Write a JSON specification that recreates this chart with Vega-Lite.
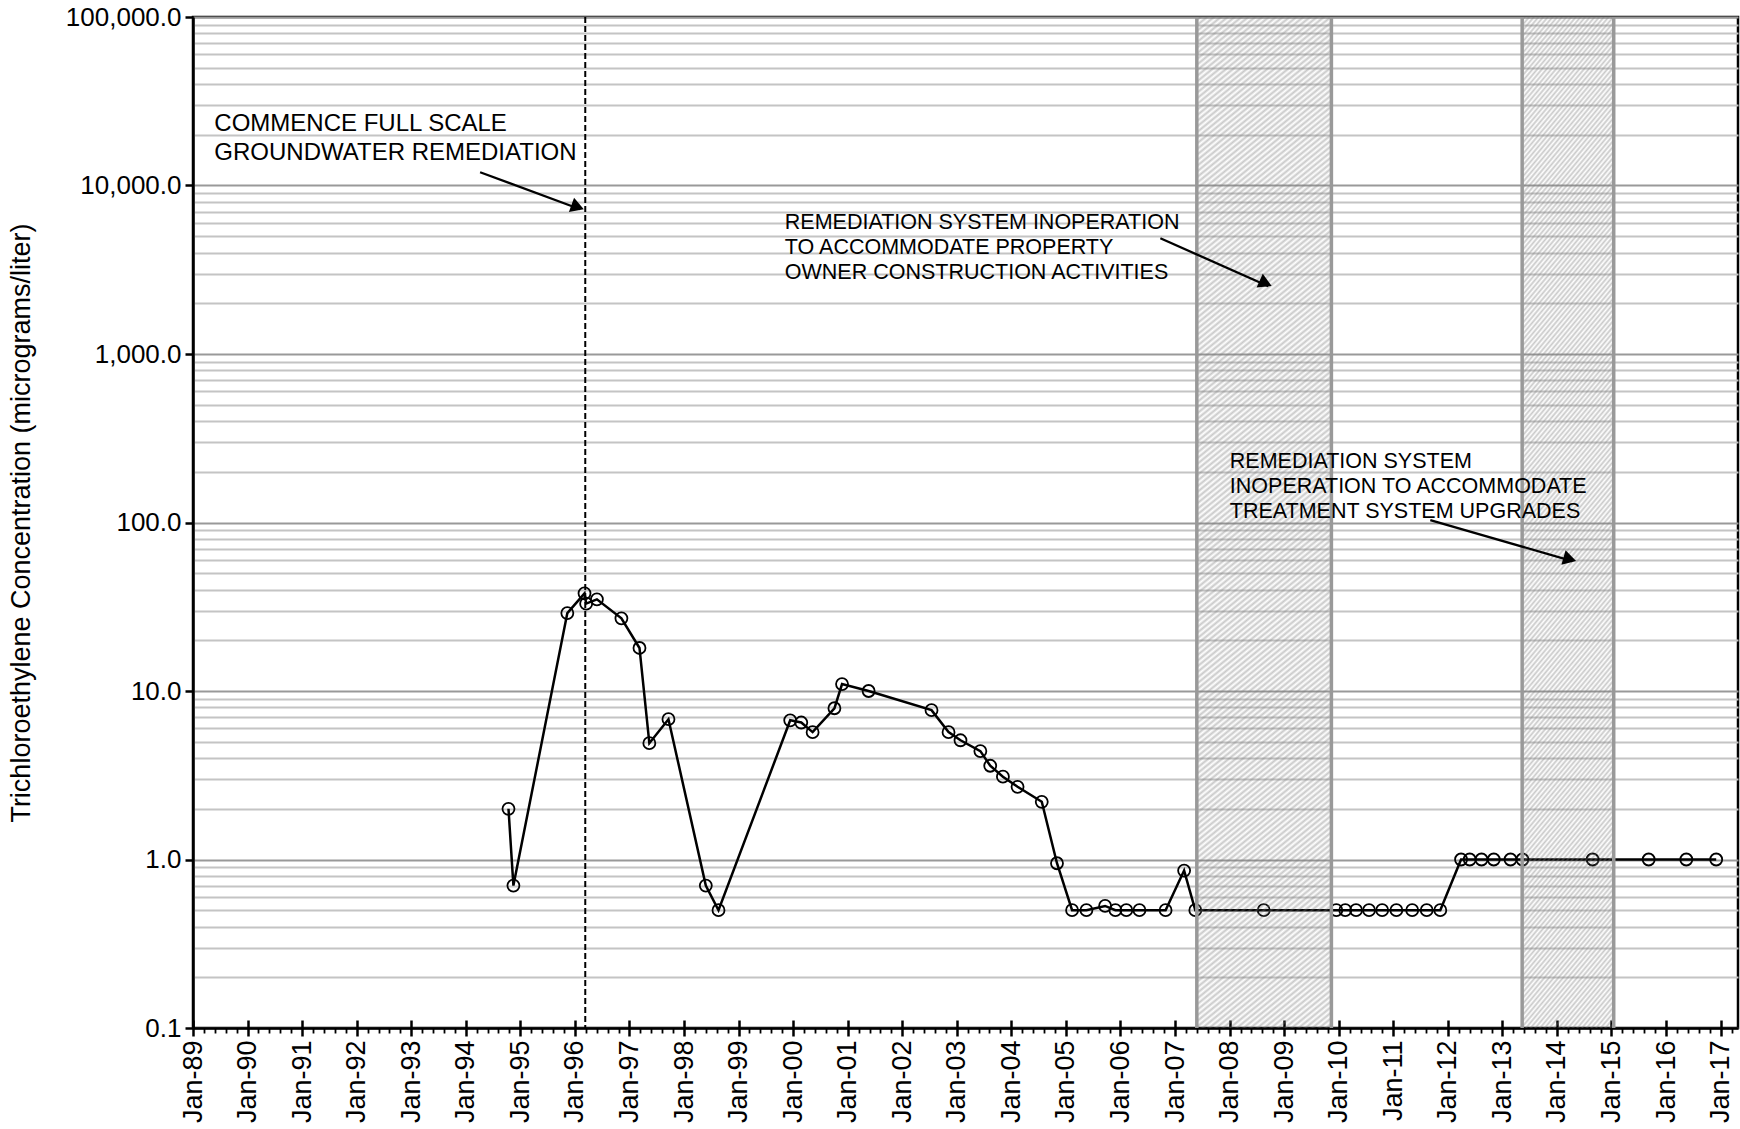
{
  "$schema": "https://vega.github.io/schema/vega-lite/v6.json",
  "width": 1545,
  "height": 1011,
  "autosize": {"type": "none"},
  "padding": {"left": 193, "top": 17, "right": 2, "bottom": 101},
  "config": {
    "font": "Liberation Sans",
    "view": {"stroke": "#000000", "strokeWidth": 2.5}
  },
  "datasets": {
    "tce": [
      {"date": "1994-10-14", "value": 2.0},
      {"date": "1994-11-16", "value": 0.7},
      {"date": "1995-11-12", "value": 29},
      {"date": "1996-03-06", "value": 38},
      {"date": "1996-03-17", "value": 33},
      {"date": "1996-05-28", "value": 35},
      {"date": "1996-11-08", "value": 27},
      {"date": "1997-03-09", "value": 18},
      {"date": "1997-05-14", "value": 4.9},
      {"date": "1997-09-19", "value": 6.8},
      {"date": "1998-05-27", "value": 0.7},
      {"date": "1998-08-20", "value": 0.5},
      {"date": "1999-12-13", "value": 6.7},
      {"date": "2000-02-25", "value": 6.5},
      {"date": "2000-05-11", "value": 5.7},
      {"date": "2000-10-04", "value": 7.9},
      {"date": "2000-11-24", "value": 11},
      {"date": "2001-05-21", "value": 10},
      {"date": "2002-07-16", "value": 7.7},
      {"date": "2002-11-07", "value": 5.7},
      {"date": "2003-01-26", "value": 5.1},
      {"date": "2003-06-08", "value": 4.4},
      {"date": "2003-08-13", "value": 3.6},
      {"date": "2003-11-06", "value": 3.1},
      {"date": "2004-02-12", "value": 2.7},
      {"date": "2004-07-23", "value": 2.2},
      {"date": "2004-11-02", "value": 0.95},
      {"date": "2005-02-11", "value": 0.5},
      {"date": "2005-05-18", "value": 0.5},
      {"date": "2005-09-20", "value": 0.53},
      {"date": "2005-11-28", "value": 0.5},
      {"date": "2006-02-09", "value": 0.5},
      {"date": "2006-05-08", "value": 0.5},
      {"date": "2006-10-30", "value": 0.5},
      {"date": "2007-03-03", "value": 0.86},
      {"date": "2007-05-17", "value": 0.5},
      {"date": "2008-08-17", "value": 0.5},
      {"date": "2009-12-16", "value": 0.5},
      {"date": "2010-02-14", "value": 0.5},
      {"date": "2010-04-27", "value": 0.5},
      {"date": "2010-07-23", "value": 0.5},
      {"date": "2010-10-19", "value": 0.5},
      {"date": "2011-01-22", "value": 0.5},
      {"date": "2011-05-08", "value": 0.5},
      {"date": "2011-08-13", "value": 0.5},
      {"date": "2011-11-12", "value": 0.5},
      {"date": "2012-03-30", "value": 1},
      {"date": "2012-05-27", "value": 1},
      {"date": "2012-08-14", "value": 1},
      {"date": "2012-11-04", "value": 1},
      {"date": "2013-02-24", "value": 1},
      {"date": "2013-05-15", "value": 1},
      {"date": "2014-08-28", "value": 1},
      {"date": "2015-09-07", "value": 1},
      {"date": "2016-05-16", "value": 1},
      {"date": "2016-12-02", "value": 1}
    ],
    "bands": [
      {"start": "2007-05-27", "end": "2009-11-13"},
      {"start": "2013-05-13", "end": "2015-01-16"}
    ],
    "arrows": [
      {"from": "1994-04-07", "fromValue": 11984, "to": "1996-02-06", "toValue": 7228},
      {"from": "2006-09-25", "fromValue": 4864, "to": "2008-09-17", "toValue": 2523},
      {"from": "2011-09-06", "fromValue": 103.3, "to": "2014-04-14", "toValue": 59.0}
    ],
    "one": [{}]
  },
  "resolve": {"axis": {"x": "independent"}},
  "layer": [
    {
      "data": {"name": "tce"},
      "mark": {"type": "line", "color": "#000000", "strokeWidth": 2.5},
      "encoding": {
        "x": {
          "field": "date", "type": "temporal",
          "scale": {"domain": [{"year": 1989, "month": 1, "date": 1}, {"year": 2017, "month": 4, "date": 27}]},
          "axis": {
            "orient": "bottom", "title": null,
            "values": [{"year": 1989}, {"year": 1990}, {"year": 1991}, {"year": 1992}, {"year": 1993}, {"year": 1994}, {"year": 1995}, {"year": 1996}, {"year": 1997}, {"year": 1998}, {"year": 1999}, {"year": 2000}, {"year": 2001}, {"year": 2002}, {"year": 2003}, {"year": 2004}, {"year": 2005}, {"year": 2006}, {"year": 2007}, {"year": 2008}, {"year": 2009}, {"year": 2010}, {"year": 2011}, {"year": 2012}, {"year": 2013}, {"year": 2014}, {"year": 2015}, {"year": 2016}, {"year": 2017}],
            "format": "%b-%y", "labelAngle": 270, "labelFontSize": 27, "labelColor": "#000000",
            "labelPadding": 4, "labelOverlap": false, "labelBound": false, "labelFlush": false,
            "grid": false, "tickColor": "#000000", "tickWidth": 2.5, "tickSize": 8,
            "domainColor": "#000000", "domainWidth": 2.5
          }
        },
        "y": {
          "field": "value", "type": "quantitative",
          "scale": {"type": "log", "domain": [0.1, 100000]},
          "axis": {
            "orient": "left",
            "title": "Trichloroethylene Concentration (micrograms/liter)",
            "titleFontSize": 27, "titleFontWeight": "normal", "titleColor": "#000000", "titlePadding": 30,
            "values": [0.1, 0.2, 0.3, 0.4, 0.5, 0.6, 0.7, 0.8, 0.9, 1, 2, 3, 4, 5, 6, 7, 8, 9, 10, 20, 30, 40, 50, 60, 70, 80, 90, 100, 200, 300, 400, 500, 600, 700, 800, 900, 1000, 2000, 3000, 4000, 5000, 6000, 7000, 8000, 9000, 10000, 20000, 30000, 40000, 50000, 60000, 70000, 80000, 90000, 100000],
            "format": ",.1f",
            "labelExpr": "abs(log(datum.value)/LN10 - round(log(datum.value)/LN10)) < 0.000001 ? datum.label : ''",
            "labelFontSize": 26, "labelColor": "#000000", "labelPadding": 4,
            "labelOverlap": false, "labelBound": false, "labelFlush": false,
            "grid": true,
            "gridColor": {"condition": {"test": "abs(log(datum.value)/LN10 - round(log(datum.value)/LN10)) < 0.000001", "value": "#999999"}, "value": "#c4c4c4"},
            "gridWidth": 2, "gridOpacity": 1,
            "tickColor": "#000000", "tickWidth": 2.5, "tickSize": 8,
            "tickOpacity": {"condition": {"test": "abs(log(datum.value)/LN10 - round(log(datum.value)/LN10)) < 0.000001", "value": 1}, "value": 0},
            "domainColor": "#000000", "domainWidth": 2.5
          }
        }
      }
    },
    {
      "data": {"name": "tce"},
      "mark": {"type": "point", "filled": false, "color": "#000000", "size": 144, "strokeWidth": 1.8, "opacity": 1},
      "encoding": {
        "x": {"field": "date", "type": "temporal", "axis": null},
        "y": {"field": "value", "type": "quantitative"}
      }
    },
    {
      "data": {"name": "tce"},
      "mark": {"type": "point", "opacity": 0},
      "encoding": {
        "x": {
          "field": "date", "type": "temporal",
          "axis": {
            "orient": "bottom", "title": null, "labels": false, "domain": false, "grid": false,
            "values": [{"year": 1989}, {"year": 1990}, {"year": 1991}, {"year": 1992}, {"year": 1993}, {"year": 1994}, {"year": 1995}, {"year": 1996}, {"year": 1997}, {"year": 1998}, {"year": 1999}, {"year": 2000}, {"year": 2001}, {"year": 2002}, {"year": 2003}, {"year": 2004}, {"year": 2005}, {"year": 2006}, {"year": 2007}, {"year": 2008}, {"year": 2009}, {"year": 2010}, {"year": 2011}, {"year": 2012}, {"year": 2013}, {"year": 2014}, {"year": 2015}, {"year": 2016}, {"year": 2017}],
            "tickSize": -8, "tickColor": "#000000", "tickWidth": 2.5
          }
        },
        "y": {"field": "value", "type": "quantitative"}
      }
    },
    {
      "data": {"name": "tce"},
      "mark": {"type": "point", "opacity": 0},
      "encoding": {
        "x": {
          "field": "date", "type": "temporal",
          "axis": {
            "orient": "bottom", "title": null, "labels": false, "domain": false, "grid": false,
            "values": [
              {"year": 1989, "month": 3, "date": 15}, {"year": 1989, "month": 5, "date": 27}, {"year": 1989, "month": 8, "date": 8}, {"year": 1989, "month": 10, "date": 20},
              {"year": 1990, "month": 3, "date": 15}, {"year": 1990, "month": 5, "date": 27}, {"year": 1990, "month": 8, "date": 8}, {"year": 1990, "month": 10, "date": 20},
              {"year": 1991, "month": 3, "date": 15}, {"year": 1991, "month": 5, "date": 27}, {"year": 1991, "month": 8, "date": 8}, {"year": 1991, "month": 10, "date": 20},
              {"year": 1992, "month": 3, "date": 15}, {"year": 1992, "month": 5, "date": 27}, {"year": 1992, "month": 8, "date": 8}, {"year": 1992, "month": 10, "date": 20},
              {"year": 1993, "month": 3, "date": 15}, {"year": 1993, "month": 5, "date": 27}, {"year": 1993, "month": 8, "date": 8}, {"year": 1993, "month": 10, "date": 20},
              {"year": 1994, "month": 3, "date": 15}, {"year": 1994, "month": 5, "date": 27}, {"year": 1994, "month": 8, "date": 8}, {"year": 1994, "month": 10, "date": 20},
              {"year": 1995, "month": 3, "date": 15}, {"year": 1995, "month": 5, "date": 27}, {"year": 1995, "month": 8, "date": 8}, {"year": 1995, "month": 10, "date": 20},
              {"year": 1996, "month": 3, "date": 15}, {"year": 1996, "month": 5, "date": 27}, {"year": 1996, "month": 8, "date": 8}, {"year": 1996, "month": 10, "date": 20},
              {"year": 1997, "month": 3, "date": 15}, {"year": 1997, "month": 5, "date": 27}, {"year": 1997, "month": 8, "date": 8}, {"year": 1997, "month": 10, "date": 20},
              {"year": 1998, "month": 3, "date": 15}, {"year": 1998, "month": 5, "date": 27}, {"year": 1998, "month": 8, "date": 8}, {"year": 1998, "month": 10, "date": 20},
              {"year": 1999, "month": 3, "date": 15}, {"year": 1999, "month": 5, "date": 27}, {"year": 1999, "month": 8, "date": 8}, {"year": 1999, "month": 10, "date": 20},
              {"year": 2000, "month": 3, "date": 15}, {"year": 2000, "month": 5, "date": 27}, {"year": 2000, "month": 8, "date": 8}, {"year": 2000, "month": 10, "date": 20},
              {"year": 2001, "month": 3, "date": 15}, {"year": 2001, "month": 5, "date": 27}, {"year": 2001, "month": 8, "date": 8}, {"year": 2001, "month": 10, "date": 20},
              {"year": 2002, "month": 3, "date": 15}, {"year": 2002, "month": 5, "date": 27}, {"year": 2002, "month": 8, "date": 8}, {"year": 2002, "month": 10, "date": 20},
              {"year": 2003, "month": 3, "date": 15}, {"year": 2003, "month": 5, "date": 27}, {"year": 2003, "month": 8, "date": 8}, {"year": 2003, "month": 10, "date": 20},
              {"year": 2004, "month": 3, "date": 15}, {"year": 2004, "month": 5, "date": 27}, {"year": 2004, "month": 8, "date": 8}, {"year": 2004, "month": 10, "date": 20},
              {"year": 2005, "month": 3, "date": 15}, {"year": 2005, "month": 5, "date": 27}, {"year": 2005, "month": 8, "date": 8}, {"year": 2005, "month": 10, "date": 20},
              {"year": 2006, "month": 3, "date": 15}, {"year": 2006, "month": 5, "date": 27}, {"year": 2006, "month": 8, "date": 8}, {"year": 2006, "month": 10, "date": 20},
              {"year": 2007, "month": 3, "date": 15}, {"year": 2007, "month": 5, "date": 27}, {"year": 2007, "month": 8, "date": 8}, {"year": 2007, "month": 10, "date": 20},
              {"year": 2008, "month": 3, "date": 15}, {"year": 2008, "month": 5, "date": 27}, {"year": 2008, "month": 8, "date": 8}, {"year": 2008, "month": 10, "date": 20},
              {"year": 2009, "month": 3, "date": 15}, {"year": 2009, "month": 5, "date": 27}, {"year": 2009, "month": 8, "date": 8}, {"year": 2009, "month": 10, "date": 20},
              {"year": 2010, "month": 3, "date": 15}, {"year": 2010, "month": 5, "date": 27}, {"year": 2010, "month": 8, "date": 8}, {"year": 2010, "month": 10, "date": 20},
              {"year": 2011, "month": 3, "date": 15}, {"year": 2011, "month": 5, "date": 27}, {"year": 2011, "month": 8, "date": 8}, {"year": 2011, "month": 10, "date": 20},
              {"year": 2012, "month": 3, "date": 15}, {"year": 2012, "month": 5, "date": 27}, {"year": 2012, "month": 8, "date": 8}, {"year": 2012, "month": 10, "date": 20},
              {"year": 2013, "month": 3, "date": 15}, {"year": 2013, "month": 5, "date": 27}, {"year": 2013, "month": 8, "date": 8}, {"year": 2013, "month": 10, "date": 20},
              {"year": 2014, "month": 3, "date": 15}, {"year": 2014, "month": 5, "date": 27}, {"year": 2014, "month": 8, "date": 8}, {"year": 2014, "month": 10, "date": 20},
              {"year": 2015, "month": 3, "date": 15}, {"year": 2015, "month": 5, "date": 27}, {"year": 2015, "month": 8, "date": 8}, {"year": 2015, "month": 10, "date": 20},
              {"year": 2016, "month": 3, "date": 15}, {"year": 2016, "month": 5, "date": 27}, {"year": 2016, "month": 8, "date": 8}, {"year": 2016, "month": 10, "date": 20},
              {"year": 2017, "month": 3, "date": 15}
            ],
            "tickSize": 5, "tickColor": "#000000", "tickWidth": 1.8
          }
        },
        "y": {"field": "value", "type": "quantitative"}
      }
    },
    {
      "data": {"name": "one"},
      "mark": {"type": "rule", "color": "#000000", "strokeWidth": 2, "strokeDash": [6, 3]},
      "encoding": {
        "x": {"datum": {"year": 1996, "month": 3, "date": 11}, "type": "temporal", "axis": null}
      }
    },
    {
      "data": {"name": "bands"},
      "mark": {
        "type": "rect",
        "fill": {
          "gradient": "linear", "x1": 0, "y1": 0, "x2": 0.12, "y2": 1.1,
          "stops": [
            {"offset":0,"color":"rgba(120,120,120,0)"},{"offset":0.0025,"color":"rgba(120,120,120,0.4)"},{"offset":0.005,"color":"rgba(120,120,120,0)"},{"offset":0.0075,"color":"rgba(120,120,120,0.4)"},{"offset":0.01,"color":"rgba(120,120,120,0)"},{"offset":0.0125,"color":"rgba(120,120,120,0.4)"},{"offset":0.015,"color":"rgba(120,120,120,0)"},{"offset":0.0175,"color":"rgba(120,120,120,0.4)"},
            {"offset":0.02,"color":"rgba(120,120,120,0)"},{"offset":0.0225,"color":"rgba(120,120,120,0.4)"},{"offset":0.025,"color":"rgba(120,120,120,0)"},{"offset":0.0275,"color":"rgba(120,120,120,0.4)"},{"offset":0.03,"color":"rgba(120,120,120,0)"},{"offset":0.0325,"color":"rgba(120,120,120,0.4)"},{"offset":0.035,"color":"rgba(120,120,120,0)"},{"offset":0.0375,"color":"rgba(120,120,120,0.4)"},
            {"offset":0.04,"color":"rgba(120,120,120,0)"},{"offset":0.0425,"color":"rgba(120,120,120,0.4)"},{"offset":0.045,"color":"rgba(120,120,120,0)"},{"offset":0.0475,"color":"rgba(120,120,120,0.4)"},{"offset":0.05,"color":"rgba(120,120,120,0)"},{"offset":0.0525,"color":"rgba(120,120,120,0.4)"},{"offset":0.055,"color":"rgba(120,120,120,0)"},{"offset":0.0575,"color":"rgba(120,120,120,0.4)"},
            {"offset":0.06,"color":"rgba(120,120,120,0)"},{"offset":0.0625,"color":"rgba(120,120,120,0.4)"},{"offset":0.065,"color":"rgba(120,120,120,0)"},{"offset":0.0675,"color":"rgba(120,120,120,0.4)"},{"offset":0.07,"color":"rgba(120,120,120,0)"},{"offset":0.0725,"color":"rgba(120,120,120,0.4)"},{"offset":0.075,"color":"rgba(120,120,120,0)"},{"offset":0.0775,"color":"rgba(120,120,120,0.4)"},
            {"offset":0.08,"color":"rgba(120,120,120,0)"},{"offset":0.0825,"color":"rgba(120,120,120,0.4)"},{"offset":0.085,"color":"rgba(120,120,120,0)"},{"offset":0.0875,"color":"rgba(120,120,120,0.4)"},{"offset":0.09,"color":"rgba(120,120,120,0)"},{"offset":0.0925,"color":"rgba(120,120,120,0.4)"},{"offset":0.095,"color":"rgba(120,120,120,0)"},{"offset":0.0975,"color":"rgba(120,120,120,0.4)"},
            {"offset":0.1,"color":"rgba(120,120,120,0)"},{"offset":0.1025,"color":"rgba(120,120,120,0.4)"},{"offset":0.105,"color":"rgba(120,120,120,0)"},{"offset":0.1075,"color":"rgba(120,120,120,0.4)"},{"offset":0.11,"color":"rgba(120,120,120,0)"},{"offset":0.1125,"color":"rgba(120,120,120,0.4)"},{"offset":0.115,"color":"rgba(120,120,120,0)"},{"offset":0.1175,"color":"rgba(120,120,120,0.4)"},
            {"offset":0.12,"color":"rgba(120,120,120,0)"},{"offset":0.1225,"color":"rgba(120,120,120,0.4)"},{"offset":0.125,"color":"rgba(120,120,120,0)"},{"offset":0.1275,"color":"rgba(120,120,120,0.4)"},{"offset":0.13,"color":"rgba(120,120,120,0)"},{"offset":0.1325,"color":"rgba(120,120,120,0.4)"},{"offset":0.135,"color":"rgba(120,120,120,0)"},{"offset":0.1375,"color":"rgba(120,120,120,0.4)"},
            {"offset":0.14,"color":"rgba(120,120,120,0)"},{"offset":0.1425,"color":"rgba(120,120,120,0.4)"},{"offset":0.145,"color":"rgba(120,120,120,0)"},{"offset":0.1475,"color":"rgba(120,120,120,0.4)"},{"offset":0.15,"color":"rgba(120,120,120,0)"},{"offset":0.1525,"color":"rgba(120,120,120,0.4)"},{"offset":0.155,"color":"rgba(120,120,120,0)"},{"offset":0.1575,"color":"rgba(120,120,120,0.4)"},
            {"offset":0.16,"color":"rgba(120,120,120,0)"},{"offset":0.1625,"color":"rgba(120,120,120,0.4)"},{"offset":0.165,"color":"rgba(120,120,120,0)"},{"offset":0.1675,"color":"rgba(120,120,120,0.4)"},{"offset":0.17,"color":"rgba(120,120,120,0)"},{"offset":0.1725,"color":"rgba(120,120,120,0.4)"},{"offset":0.175,"color":"rgba(120,120,120,0)"},{"offset":0.1775,"color":"rgba(120,120,120,0.4)"},
            {"offset":0.18,"color":"rgba(120,120,120,0)"},{"offset":0.1825,"color":"rgba(120,120,120,0.4)"},{"offset":0.185,"color":"rgba(120,120,120,0)"},{"offset":0.1875,"color":"rgba(120,120,120,0.4)"},{"offset":0.19,"color":"rgba(120,120,120,0)"},{"offset":0.1925,"color":"rgba(120,120,120,0.4)"},{"offset":0.195,"color":"rgba(120,120,120,0)"},{"offset":0.1975,"color":"rgba(120,120,120,0.4)"},
            {"offset":0.2,"color":"rgba(120,120,120,0)"},{"offset":0.2025,"color":"rgba(120,120,120,0.4)"},{"offset":0.205,"color":"rgba(120,120,120,0)"},{"offset":0.2075,"color":"rgba(120,120,120,0.4)"},{"offset":0.21,"color":"rgba(120,120,120,0)"},{"offset":0.2125,"color":"rgba(120,120,120,0.4)"},{"offset":0.215,"color":"rgba(120,120,120,0)"},{"offset":0.2175,"color":"rgba(120,120,120,0.4)"},
            {"offset":0.22,"color":"rgba(120,120,120,0)"},{"offset":0.2225,"color":"rgba(120,120,120,0.4)"},{"offset":0.225,"color":"rgba(120,120,120,0)"},{"offset":0.2275,"color":"rgba(120,120,120,0.4)"},{"offset":0.23,"color":"rgba(120,120,120,0)"},{"offset":0.2325,"color":"rgba(120,120,120,0.4)"},{"offset":0.235,"color":"rgba(120,120,120,0)"},{"offset":0.2375,"color":"rgba(120,120,120,0.4)"},
            {"offset":0.24,"color":"rgba(120,120,120,0)"},{"offset":0.2425,"color":"rgba(120,120,120,0.4)"},{"offset":0.245,"color":"rgba(120,120,120,0)"},{"offset":0.2475,"color":"rgba(120,120,120,0.4)"},{"offset":0.25,"color":"rgba(120,120,120,0)"},{"offset":0.2525,"color":"rgba(120,120,120,0.4)"},{"offset":0.255,"color":"rgba(120,120,120,0)"},{"offset":0.2575,"color":"rgba(120,120,120,0.4)"},
            {"offset":0.26,"color":"rgba(120,120,120,0)"},{"offset":0.2625,"color":"rgba(120,120,120,0.4)"},{"offset":0.265,"color":"rgba(120,120,120,0)"},{"offset":0.2675,"color":"rgba(120,120,120,0.4)"},{"offset":0.27,"color":"rgba(120,120,120,0)"},{"offset":0.2725,"color":"rgba(120,120,120,0.4)"},{"offset":0.275,"color":"rgba(120,120,120,0)"},{"offset":0.2775,"color":"rgba(120,120,120,0.4)"},
            {"offset":0.28,"color":"rgba(120,120,120,0)"},{"offset":0.2825,"color":"rgba(120,120,120,0.4)"},{"offset":0.285,"color":"rgba(120,120,120,0)"},{"offset":0.2875,"color":"rgba(120,120,120,0.4)"},{"offset":0.29,"color":"rgba(120,120,120,0)"},{"offset":0.2925,"color":"rgba(120,120,120,0.4)"},{"offset":0.295,"color":"rgba(120,120,120,0)"},{"offset":0.2975,"color":"rgba(120,120,120,0.4)"},
            {"offset":0.3,"color":"rgba(120,120,120,0)"},{"offset":0.3025,"color":"rgba(120,120,120,0.4)"},{"offset":0.305,"color":"rgba(120,120,120,0)"},{"offset":0.3075,"color":"rgba(120,120,120,0.4)"},{"offset":0.31,"color":"rgba(120,120,120,0)"},{"offset":0.3125,"color":"rgba(120,120,120,0.4)"},{"offset":0.315,"color":"rgba(120,120,120,0)"},{"offset":0.3175,"color":"rgba(120,120,120,0.4)"},
            {"offset":0.32,"color":"rgba(120,120,120,0)"},{"offset":0.3225,"color":"rgba(120,120,120,0.4)"},{"offset":0.325,"color":"rgba(120,120,120,0)"},{"offset":0.3275,"color":"rgba(120,120,120,0.4)"},{"offset":0.33,"color":"rgba(120,120,120,0)"},{"offset":0.3325,"color":"rgba(120,120,120,0.4)"},{"offset":0.335,"color":"rgba(120,120,120,0)"},{"offset":0.3375,"color":"rgba(120,120,120,0.4)"},
            {"offset":0.34,"color":"rgba(120,120,120,0)"},{"offset":0.3425,"color":"rgba(120,120,120,0.4)"},{"offset":0.345,"color":"rgba(120,120,120,0)"},{"offset":0.3475,"color":"rgba(120,120,120,0.4)"},{"offset":0.35,"color":"rgba(120,120,120,0)"},{"offset":0.3525,"color":"rgba(120,120,120,0.4)"},{"offset":0.355,"color":"rgba(120,120,120,0)"},{"offset":0.3575,"color":"rgba(120,120,120,0.4)"},
            {"offset":0.36,"color":"rgba(120,120,120,0)"},{"offset":0.3625,"color":"rgba(120,120,120,0.4)"},{"offset":0.365,"color":"rgba(120,120,120,0)"},{"offset":0.3675,"color":"rgba(120,120,120,0.4)"},{"offset":0.37,"color":"rgba(120,120,120,0)"},{"offset":0.3725,"color":"rgba(120,120,120,0.4)"},{"offset":0.375,"color":"rgba(120,120,120,0)"},{"offset":0.3775,"color":"rgba(120,120,120,0.4)"},
            {"offset":0.38,"color":"rgba(120,120,120,0)"},{"offset":0.3825,"color":"rgba(120,120,120,0.4)"},{"offset":0.385,"color":"rgba(120,120,120,0)"},{"offset":0.3875,"color":"rgba(120,120,120,0.4)"},{"offset":0.39,"color":"rgba(120,120,120,0)"},{"offset":0.3925,"color":"rgba(120,120,120,0.4)"},{"offset":0.395,"color":"rgba(120,120,120,0)"},{"offset":0.3975,"color":"rgba(120,120,120,0.4)"},
            {"offset":0.4,"color":"rgba(120,120,120,0)"},{"offset":0.4025,"color":"rgba(120,120,120,0.4)"},{"offset":0.405,"color":"rgba(120,120,120,0)"},{"offset":0.4075,"color":"rgba(120,120,120,0.4)"},{"offset":0.41,"color":"rgba(120,120,120,0)"},{"offset":0.4125,"color":"rgba(120,120,120,0.4)"},{"offset":0.415,"color":"rgba(120,120,120,0)"},{"offset":0.4175,"color":"rgba(120,120,120,0.4)"},
            {"offset":0.42,"color":"rgba(120,120,120,0)"},{"offset":0.4225,"color":"rgba(120,120,120,0.4)"},{"offset":0.425,"color":"rgba(120,120,120,0)"},{"offset":0.4275,"color":"rgba(120,120,120,0.4)"},{"offset":0.43,"color":"rgba(120,120,120,0)"},{"offset":0.4325,"color":"rgba(120,120,120,0.4)"},{"offset":0.435,"color":"rgba(120,120,120,0)"},{"offset":0.4375,"color":"rgba(120,120,120,0.4)"},
            {"offset":0.44,"color":"rgba(120,120,120,0)"},{"offset":0.4425,"color":"rgba(120,120,120,0.4)"},{"offset":0.445,"color":"rgba(120,120,120,0)"},{"offset":0.4475,"color":"rgba(120,120,120,0.4)"},{"offset":0.45,"color":"rgba(120,120,120,0)"},{"offset":0.4525,"color":"rgba(120,120,120,0.4)"},{"offset":0.455,"color":"rgba(120,120,120,0)"},{"offset":0.4575,"color":"rgba(120,120,120,0.4)"},
            {"offset":0.46,"color":"rgba(120,120,120,0)"},{"offset":0.4625,"color":"rgba(120,120,120,0.4)"},{"offset":0.465,"color":"rgba(120,120,120,0)"},{"offset":0.4675,"color":"rgba(120,120,120,0.4)"},{"offset":0.47,"color":"rgba(120,120,120,0)"},{"offset":0.4725,"color":"rgba(120,120,120,0.4)"},{"offset":0.475,"color":"rgba(120,120,120,0)"},{"offset":0.4775,"color":"rgba(120,120,120,0.4)"},
            {"offset":0.48,"color":"rgba(120,120,120,0)"},{"offset":0.4825,"color":"rgba(120,120,120,0.4)"},{"offset":0.485,"color":"rgba(120,120,120,0)"},{"offset":0.4875,"color":"rgba(120,120,120,0.4)"},{"offset":0.49,"color":"rgba(120,120,120,0)"},{"offset":0.4925,"color":"rgba(120,120,120,0.4)"},{"offset":0.495,"color":"rgba(120,120,120,0)"},{"offset":0.4975,"color":"rgba(120,120,120,0.4)"},
            {"offset":0.5,"color":"rgba(120,120,120,0)"},{"offset":0.5025,"color":"rgba(120,120,120,0.4)"},{"offset":0.505,"color":"rgba(120,120,120,0)"},{"offset":0.5075,"color":"rgba(120,120,120,0.4)"},{"offset":0.51,"color":"rgba(120,120,120,0)"},{"offset":0.5125,"color":"rgba(120,120,120,0.4)"},{"offset":0.515,"color":"rgba(120,120,120,0)"},{"offset":0.5175,"color":"rgba(120,120,120,0.4)"},
            {"offset":0.52,"color":"rgba(120,120,120,0)"},{"offset":0.5225,"color":"rgba(120,120,120,0.4)"},{"offset":0.525,"color":"rgba(120,120,120,0)"},{"offset":0.5275,"color":"rgba(120,120,120,0.4)"},{"offset":0.53,"color":"rgba(120,120,120,0)"},{"offset":0.5325,"color":"rgba(120,120,120,0.4)"},{"offset":0.535,"color":"rgba(120,120,120,0)"},{"offset":0.5375,"color":"rgba(120,120,120,0.4)"},
            {"offset":0.54,"color":"rgba(120,120,120,0)"},{"offset":0.5425,"color":"rgba(120,120,120,0.4)"},{"offset":0.545,"color":"rgba(120,120,120,0)"},{"offset":0.5475,"color":"rgba(120,120,120,0.4)"},{"offset":0.55,"color":"rgba(120,120,120,0)"},{"offset":0.5525,"color":"rgba(120,120,120,0.4)"},{"offset":0.555,"color":"rgba(120,120,120,0)"},{"offset":0.5575,"color":"rgba(120,120,120,0.4)"},
            {"offset":0.56,"color":"rgba(120,120,120,0)"},{"offset":0.5625,"color":"rgba(120,120,120,0.4)"},{"offset":0.565,"color":"rgba(120,120,120,0)"},{"offset":0.5675,"color":"rgba(120,120,120,0.4)"},{"offset":0.57,"color":"rgba(120,120,120,0)"},{"offset":0.5725,"color":"rgba(120,120,120,0.4)"},{"offset":0.575,"color":"rgba(120,120,120,0)"},{"offset":0.5775,"color":"rgba(120,120,120,0.4)"},
            {"offset":0.58,"color":"rgba(120,120,120,0)"},{"offset":0.5825,"color":"rgba(120,120,120,0.4)"},{"offset":0.585,"color":"rgba(120,120,120,0)"},{"offset":0.5875,"color":"rgba(120,120,120,0.4)"},{"offset":0.59,"color":"rgba(120,120,120,0)"},{"offset":0.5925,"color":"rgba(120,120,120,0.4)"},{"offset":0.595,"color":"rgba(120,120,120,0)"},{"offset":0.5975,"color":"rgba(120,120,120,0.4)"},
            {"offset":0.6,"color":"rgba(120,120,120,0)"},{"offset":0.6025,"color":"rgba(120,120,120,0.4)"},{"offset":0.605,"color":"rgba(120,120,120,0)"},{"offset":0.6075,"color":"rgba(120,120,120,0.4)"},{"offset":0.61,"color":"rgba(120,120,120,0)"},{"offset":0.6125,"color":"rgba(120,120,120,0.4)"},{"offset":0.615,"color":"rgba(120,120,120,0)"},{"offset":0.6175,"color":"rgba(120,120,120,0.4)"},
            {"offset":0.62,"color":"rgba(120,120,120,0)"},{"offset":0.6225,"color":"rgba(120,120,120,0.4)"},{"offset":0.625,"color":"rgba(120,120,120,0)"},{"offset":0.6275,"color":"rgba(120,120,120,0.4)"},{"offset":0.63,"color":"rgba(120,120,120,0)"},{"offset":0.6325,"color":"rgba(120,120,120,0.4)"},{"offset":0.635,"color":"rgba(120,120,120,0)"},{"offset":0.6375,"color":"rgba(120,120,120,0.4)"},
            {"offset":0.64,"color":"rgba(120,120,120,0)"},{"offset":0.6425,"color":"rgba(120,120,120,0.4)"},{"offset":0.645,"color":"rgba(120,120,120,0)"},{"offset":0.6475,"color":"rgba(120,120,120,0.4)"},{"offset":0.65,"color":"rgba(120,120,120,0)"},{"offset":0.6525,"color":"rgba(120,120,120,0.4)"},{"offset":0.655,"color":"rgba(120,120,120,0)"},{"offset":0.6575,"color":"rgba(120,120,120,0.4)"},
            {"offset":0.66,"color":"rgba(120,120,120,0)"},{"offset":0.6625,"color":"rgba(120,120,120,0.4)"},{"offset":0.665,"color":"rgba(120,120,120,0)"},{"offset":0.6675,"color":"rgba(120,120,120,0.4)"},{"offset":0.67,"color":"rgba(120,120,120,0)"},{"offset":0.6725,"color":"rgba(120,120,120,0.4)"},{"offset":0.675,"color":"rgba(120,120,120,0)"},{"offset":0.6775,"color":"rgba(120,120,120,0.4)"},
            {"offset":0.68,"color":"rgba(120,120,120,0)"},{"offset":0.6825,"color":"rgba(120,120,120,0.4)"},{"offset":0.685,"color":"rgba(120,120,120,0)"},{"offset":0.6875,"color":"rgba(120,120,120,0.4)"},{"offset":0.69,"color":"rgba(120,120,120,0)"},{"offset":0.6925,"color":"rgba(120,120,120,0.4)"},{"offset":0.695,"color":"rgba(120,120,120,0)"},{"offset":0.6975,"color":"rgba(120,120,120,0.4)"},
            {"offset":0.7,"color":"rgba(120,120,120,0)"},{"offset":0.7025,"color":"rgba(120,120,120,0.4)"},{"offset":0.705,"color":"rgba(120,120,120,0)"},{"offset":0.7075,"color":"rgba(120,120,120,0.4)"},{"offset":0.71,"color":"rgba(120,120,120,0)"},{"offset":0.7125,"color":"rgba(120,120,120,0.4)"},{"offset":0.715,"color":"rgba(120,120,120,0)"},{"offset":0.7175,"color":"rgba(120,120,120,0.4)"},
            {"offset":0.72,"color":"rgba(120,120,120,0)"},{"offset":0.7225,"color":"rgba(120,120,120,0.4)"},{"offset":0.725,"color":"rgba(120,120,120,0)"},{"offset":0.7275,"color":"rgba(120,120,120,0.4)"},{"offset":0.73,"color":"rgba(120,120,120,0)"},{"offset":0.7325,"color":"rgba(120,120,120,0.4)"},{"offset":0.735,"color":"rgba(120,120,120,0)"},{"offset":0.7375,"color":"rgba(120,120,120,0.4)"},
            {"offset":0.74,"color":"rgba(120,120,120,0)"},{"offset":0.7425,"color":"rgba(120,120,120,0.4)"},{"offset":0.745,"color":"rgba(120,120,120,0)"},{"offset":0.7475,"color":"rgba(120,120,120,0.4)"},{"offset":0.75,"color":"rgba(120,120,120,0)"},{"offset":0.7525,"color":"rgba(120,120,120,0.4)"},{"offset":0.755,"color":"rgba(120,120,120,0)"},{"offset":0.7575,"color":"rgba(120,120,120,0.4)"},
            {"offset":0.76,"color":"rgba(120,120,120,0)"},{"offset":0.7625,"color":"rgba(120,120,120,0.4)"},{"offset":0.765,"color":"rgba(120,120,120,0)"},{"offset":0.7675,"color":"rgba(120,120,120,0.4)"},{"offset":0.77,"color":"rgba(120,120,120,0)"},{"offset":0.7725,"color":"rgba(120,120,120,0.4)"},{"offset":0.775,"color":"rgba(120,120,120,0)"},{"offset":0.7775,"color":"rgba(120,120,120,0.4)"},
            {"offset":0.78,"color":"rgba(120,120,120,0)"},{"offset":0.7825,"color":"rgba(120,120,120,0.4)"},{"offset":0.785,"color":"rgba(120,120,120,0)"},{"offset":0.7875,"color":"rgba(120,120,120,0.4)"},{"offset":0.79,"color":"rgba(120,120,120,0)"},{"offset":0.7925,"color":"rgba(120,120,120,0.4)"},{"offset":0.795,"color":"rgba(120,120,120,0)"},{"offset":0.7975,"color":"rgba(120,120,120,0.4)"},
            {"offset":0.8,"color":"rgba(120,120,120,0)"},{"offset":0.8025,"color":"rgba(120,120,120,0.4)"},{"offset":0.805,"color":"rgba(120,120,120,0)"},{"offset":0.8075,"color":"rgba(120,120,120,0.4)"},{"offset":0.81,"color":"rgba(120,120,120,0)"},{"offset":0.8125,"color":"rgba(120,120,120,0.4)"},{"offset":0.815,"color":"rgba(120,120,120,0)"},{"offset":0.8175,"color":"rgba(120,120,120,0.4)"},
            {"offset":0.82,"color":"rgba(120,120,120,0)"},{"offset":0.8225,"color":"rgba(120,120,120,0.4)"},{"offset":0.825,"color":"rgba(120,120,120,0)"},{"offset":0.8275,"color":"rgba(120,120,120,0.4)"},{"offset":0.83,"color":"rgba(120,120,120,0)"},{"offset":0.8325,"color":"rgba(120,120,120,0.4)"},{"offset":0.835,"color":"rgba(120,120,120,0)"},{"offset":0.8375,"color":"rgba(120,120,120,0.4)"},
            {"offset":0.84,"color":"rgba(120,120,120,0)"},{"offset":0.8425,"color":"rgba(120,120,120,0.4)"},{"offset":0.845,"color":"rgba(120,120,120,0)"},{"offset":0.8475,"color":"rgba(120,120,120,0.4)"},{"offset":0.85,"color":"rgba(120,120,120,0)"},{"offset":0.8525,"color":"rgba(120,120,120,0.4)"},{"offset":0.855,"color":"rgba(120,120,120,0)"},{"offset":0.8575,"color":"rgba(120,120,120,0.4)"},
            {"offset":0.86,"color":"rgba(120,120,120,0)"},{"offset":0.8625,"color":"rgba(120,120,120,0.4)"},{"offset":0.865,"color":"rgba(120,120,120,0)"},{"offset":0.8675,"color":"rgba(120,120,120,0.4)"},{"offset":0.87,"color":"rgba(120,120,120,0)"},{"offset":0.8725,"color":"rgba(120,120,120,0.4)"},{"offset":0.875,"color":"rgba(120,120,120,0)"},{"offset":0.8775,"color":"rgba(120,120,120,0.4)"},
            {"offset":0.88,"color":"rgba(120,120,120,0)"},{"offset":0.8825,"color":"rgba(120,120,120,0.4)"},{"offset":0.885,"color":"rgba(120,120,120,0)"},{"offset":0.8875,"color":"rgba(120,120,120,0.4)"},{"offset":0.89,"color":"rgba(120,120,120,0)"},{"offset":0.8925,"color":"rgba(120,120,120,0.4)"},{"offset":0.895,"color":"rgba(120,120,120,0)"},{"offset":0.8975,"color":"rgba(120,120,120,0.4)"},
            {"offset":0.9,"color":"rgba(120,120,120,0)"},{"offset":0.9025,"color":"rgba(120,120,120,0.4)"},{"offset":0.905,"color":"rgba(120,120,120,0)"},{"offset":0.9075,"color":"rgba(120,120,120,0.4)"},{"offset":0.91,"color":"rgba(120,120,120,0)"},{"offset":0.9125,"color":"rgba(120,120,120,0.4)"},{"offset":0.915,"color":"rgba(120,120,120,0)"},{"offset":0.9175,"color":"rgba(120,120,120,0.4)"},
            {"offset":0.92,"color":"rgba(120,120,120,0)"},{"offset":0.9225,"color":"rgba(120,120,120,0.4)"},{"offset":0.925,"color":"rgba(120,120,120,0)"},{"offset":0.9275,"color":"rgba(120,120,120,0.4)"},{"offset":0.93,"color":"rgba(120,120,120,0)"},{"offset":0.9325,"color":"rgba(120,120,120,0.4)"},{"offset":0.935,"color":"rgba(120,120,120,0)"},{"offset":0.9375,"color":"rgba(120,120,120,0.4)"},
            {"offset":0.94,"color":"rgba(120,120,120,0)"},{"offset":0.9425,"color":"rgba(120,120,120,0.4)"},{"offset":0.945,"color":"rgba(120,120,120,0)"},{"offset":0.9475,"color":"rgba(120,120,120,0.4)"},{"offset":0.95,"color":"rgba(120,120,120,0)"},{"offset":0.9525,"color":"rgba(120,120,120,0.4)"},{"offset":0.955,"color":"rgba(120,120,120,0)"},{"offset":0.9575,"color":"rgba(120,120,120,0.4)"},
            {"offset":0.96,"color":"rgba(120,120,120,0)"},{"offset":0.9625,"color":"rgba(120,120,120,0.4)"},{"offset":0.965,"color":"rgba(120,120,120,0)"},{"offset":0.9675,"color":"rgba(120,120,120,0.4)"},{"offset":0.97,"color":"rgba(120,120,120,0)"},{"offset":0.9725,"color":"rgba(120,120,120,0.4)"},{"offset":0.975,"color":"rgba(120,120,120,0)"},{"offset":0.9775,"color":"rgba(120,120,120,0.4)"},
            {"offset":0.98,"color":"rgba(120,120,120,0)"},{"offset":0.9825,"color":"rgba(120,120,120,0.4)"},{"offset":0.985,"color":"rgba(120,120,120,0)"},{"offset":0.9875,"color":"rgba(120,120,120,0.4)"},{"offset":0.99,"color":"rgba(120,120,120,0)"},{"offset":0.9925,"color":"rgba(120,120,120,0.4)"},{"offset":0.995,"color":"rgba(120,120,120,0)"},{"offset":0.9975,"color":"rgba(120,120,120,0.4)"},
            {"offset":1,"color":"rgba(120,120,120,0)"}
          ]
        }
      },
      "encoding": {
        "x": {"field": "start", "type": "temporal", "axis": null},
        "x2": {"field": "end"}
      }
    },
    {
      "data": {"name": "bands"},
      "mark": {"type": "rule", "color": "#999999", "strokeWidth": 3.5},
      "encoding": {
        "x": {"field": "start", "type": "temporal", "axis": null}
      }
    },
    {
      "data": {"name": "bands"},
      "mark": {"type": "rule", "color": "#999999", "strokeWidth": 3.5},
      "encoding": {
        "x": {"field": "end", "type": "temporal", "axis": null}
      }
    },
    {
      "data": {"name": "one"},
      "mark": {"type": "text", "text": ["COMMENCE  FULL SCALE", "GROUNDWATER REMEDIATION"], "align": "left", "baseline": "top", "fontSize": 24, "lineHeight": 29, "color": "#000000"},
      "encoding": {
        "x": {"datum": {"year": 1989, "month": 5, "date": 24}, "type": "temporal", "axis": null},
        "y": {"datum": 27200, "type": "quantitative"}
      }
    },
    {
      "data": {"name": "one"},
      "mark": {"type": "text", "text": ["REMEDIATION SYSTEM INOPERATION", "TO ACCOMMODATE PROPERTY", "OWNER CONSTRUCTION ACTIVITIES"], "align": "left", "baseline": "top", "fontSize": 21.5, "lineHeight": 25, "color": "#000000"},
      "encoding": {
        "x": {"datum": {"year": 1999, "month": 11, "date": 7}, "type": "temporal", "axis": null},
        "y": {"datum": 6984, "type": "quantitative"}
      }
    },
    {
      "data": {"name": "one"},
      "mark": {"type": "text", "text": ["REMEDIATION SYSTEM", "INOPERATION TO ACCOMMODATE", "TREATMENT SYSTEM UPGRADES"], "align": "left", "baseline": "top", "fontSize": 21.5, "lineHeight": 25, "color": "#000000"},
      "encoding": {
        "x": {"datum": {"year": 2008, "month": 1, "date": 3}, "type": "temporal", "axis": null},
        "y": {"datum": 265, "type": "quantitative"}
      }
    },
    {
      "data": {"name": "arrows"},
      "mark": {"type": "rule", "color": "#000000", "strokeWidth": 2.3},
      "encoding": {
        "x": {"field": "from", "type": "temporal", "axis": null},
        "x2": {"field": "to"},
        "y": {"field": "fromValue", "type": "quantitative"},
        "y2": {"field": "toValue"}
      }
    },
    {
      "data": {"name": "one"},
      "mark": {"type": "point", "shape": "triangle-right", "filled": true, "color": "#000000", "size": 230, "angle": 20, "opacity": 1},
      "encoding": {
        "x": {"datum": {"year": 1996, "month": 1, "date": 20}, "type": "temporal", "axis": null},
        "y": {"datum": 7450, "type": "quantitative"}
      }
    },
    {
      "data": {"name": "one"},
      "mark": {"type": "point", "shape": "triangle-right", "filled": true, "color": "#000000", "size": 230, "angle": 24, "opacity": 1},
      "encoding": {
        "x": {"datum": {"year": 2008, "month": 8, "date": 30}, "type": "temporal", "axis": null},
        "y": {"datum": 2630, "type": "quantitative"}
      }
    },
    {
      "data": {"name": "one"},
      "mark": {"type": "point", "shape": "triangle-right", "filled": true, "color": "#000000", "size": 230, "angle": 16, "opacity": 1},
      "encoding": {
        "x": {"datum": {"year": 2014, "month": 3, "date": 28}, "type": "temporal", "axis": null},
        "y": {"datum": 60.5, "type": "quantitative"}
      }
    }
  ]
}
